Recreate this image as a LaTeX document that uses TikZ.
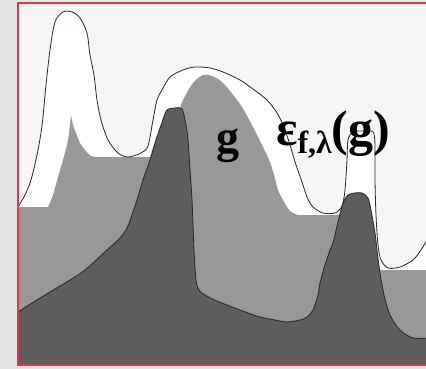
\documentclass[tikz,border=0pt]{standalone}
\usepackage{fontspec}
\setmainfont{Liberation Serif}
\usepackage{xcolor}
\usepackage{tikz}
\definecolor{marble}{HTML}{E4E4E2}
\definecolor{paper}{HTML}{F6F6F6}
\definecolor{midgray}{HTML}{989898}
\definecolor{darkgray}{HTML}{5E5E5E}
\definecolor{framered}{HTML}{E0334F}
\tikzset{
  outline/.style={draw=black!85, line width=0.8pt, line join=round},
  biglabel/.style={inner sep=0pt, font=\bfseries\fontsize{46}{46}\selectfont}
}

\begin{document}
\begin{tikzpicture}[x=1pt, y=-1pt]
\useasboundingbox (0,0) rectangle (426,369);
\fill[marble] (0,0) rectangle (426,369);
\fill[paper] (18,3) rectangle (432,365);
% area under the epsilon curve
\fill[white] plot[smooth, tension=0.5] coordinates {
  (18,207) (25,195) (31,180) (37,155) (41,133) (43,117) (46,85) (50,50)
  (55,22) (63,12) (72,12) (80,18) (87,33) (90,55) (94,75) (97,100)
  (101,120) (108,140) (118,153) (128,157) (141,153) (148,146) (153,120)
  (157,100) (162,90) (170,77) (183,70) (195,67) (210,68) (223,72)
  (240,80) (253,89) (267,100) (277,113) (284,127) (290,145) (296,165)
  (302,182) (307,197) (313,207) (323,213) (335,213) (342,206) (345,190)
  (347,160) (348,140) (353,132) (363,131) (373,132) (375,145) (375,180)
  (376,215) (378,245) (381,260) (388,268) (400,267) (413,260) (421,250)
  (428,238)} -- (428,365) -- (18,365) -- cycle;
% g
\fill[midgray] (18,207) -- (48,207)
  -- plot[smooth, tension=0.5] coordinates {(48,207) (53,195) (58,177) (63,160) (68,140) (71,115)}
  -- plot[smooth, tension=0.5] coordinates {(71,115) (73,125) (76,133) (80,143) (85,150) (91,156) (97,157)}
  -- (150,157) -- (165,112)
  -- plot[smooth, tension=0.5] coordinates {(180,108) (183,100) (193,83) (203,75) (212,76) (223,83)
     (240,104) (253,127) (263,147) (270,162) (274,175) (278,190) (283,200) (290,211) (298,215)}
  -- (340,215) -- (360,200) -- (380,270) -- (428,270) -- (428,365) -- (18,365) -- cycle;
% f
\fill[darkgray] plot[smooth, tension=0.5] coordinates {
  (18,312) (40,298) (65,283) (85,270) (107,250) (120,238) (127,228)
  (132,215) (137,200) (143,180) (150,160) (156,140) (163,120) (167,110)
  (175,108) (182,109) (186,125) (188,140) (190,170) (192,200) (194,250)
  (196,280) (199,290) (205,295) (217,301) (240,310) (260,317) (275,320)
  (287,322) (300,320) (307,317) (313,310) (318,295) (320,283) (325,265)
  (330,250) (333,243) (338,222) (343,203) (348,195) (355,193) (362,193)
  (368,198) (371,210) (375,233) (377,250) (380,273) (384,295) (390,315)
  (400,330) (413,338) (428,338)} -- (428,365) -- (18,365) -- cycle;
\draw[outline] plot[smooth, tension=0.5] coordinates {
  (18,312) (40,298) (65,283) (85,270) (107,250) (120,238) (127,228)
  (132,215) (137,200) (143,180) (150,160) (156,140) (163,120) (167,110)
  (175,108) (182,109) (186,125) (188,140) (190,170) (192,200) (194,250)
  (196,280) (199,290) (205,295) (217,301) (240,310) (260,317) (275,320)
  (287,322) (300,320) (307,317) (313,310) (318,295) (320,283) (325,265)
  (330,250) (333,243) (338,222) (343,203) (348,195) (355,193) (362,193)
  (368,198) (371,210) (375,233) (377,250) (380,273) (384,295) (390,315)
  (400,330) (413,338) (428,338)};
% epsilon curve
\draw[outline] plot[smooth, tension=0.5] coordinates {
  (18,207) (25,195) (31,180) (37,155) (41,133) (43,117) (46,85) (50,50)
  (55,22) (63,12) (72,12) (80,18) (87,33) (90,55) (94,75) (97,100)
  (101,120) (108,140) (118,153) (128,157) (141,153) (148,146) (153,120)
  (157,100) (162,90) (170,77) (183,70) (195,67) (210,68) (223,72)
  (240,80) (253,89) (267,100) (277,113) (284,127) (290,145) (296,165)
  (302,182) (307,197) (313,207) (323,213) (335,213) (342,206) (345,190)
  (347,160) (348,140) (353,132) (363,131) (373,132) (375,145) (375,180)
  (376,215) (378,245) (381,260) (388,268) (400,267) (413,260) (421,250)
  (428,238)};
% frame
\draw[framered, line width=1.4pt] (18,3) rectangle (432,365);
\node[biglabel, anchor=base west] (glabel) at (216,152) {g};
\node[biglabel, anchor=base west, font=\bfseries\fontsize{50}{50}\selectfont] (epslabel) at (276,145)
  {ε\raisebox{-9pt}{\fontsize{32}{32}\selectfont f,λ}(g)};
\end{tikzpicture}
\end{document}
